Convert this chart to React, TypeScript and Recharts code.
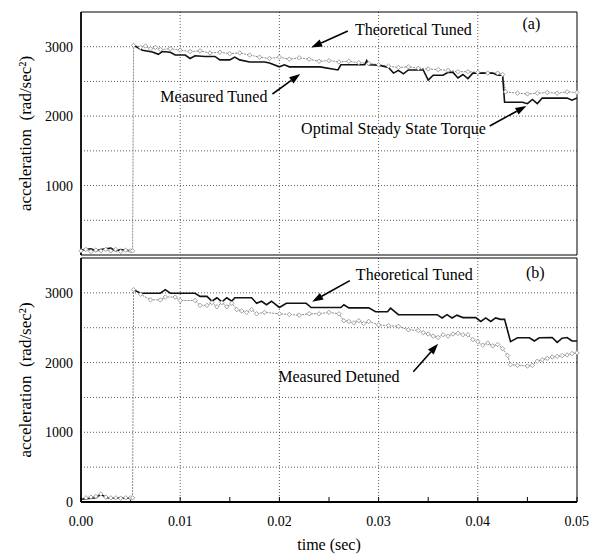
import {
  LineChart,
  Line,
  XAxis,
  YAxis,
  CartesianGrid,
  ReferenceArea,
  ReferenceLine,
  ReferenceDot,
} from "recharts";

const FONT = "'Liberation Serif', 'Times New Roman', serif";

const X_TICKS = [0, 0.005, 0.01, 0.015, 0.02, 0.025, 0.03, 0.035, 0.04, 0.045, 0.05];
const Y_TICKS = [0, 500, 1000, 1500, 2000, 2500, 3000, 3500];
const X_GRID = [0.01, 0.02, 0.03, 0.04];
const Y_GRID = [500, 1000, 1500, 2000, 2500, 3000];

// panel (a): time (sec), acceleration (rad/sec^2); null = pen up at the step
const measuredTunedA: [number, number | null][] = [
  [0, 70], [0.001, 90], [0.0015, 60], [0.002, 80], [0.003, 100], [0.0035, 60], [0.004, 80],
  [0.005, 60], [0.0052, 60], [0.00525, null], [0.0053, 3020], [0.0062, 2950], [0.0072, 2925], [0.0078, 2890],
  [0.0082, 2930], [0.009, 2920], [0.0095, 2880], [0.0105, 2880], [0.011, 2830], [0.0115, 2870],
  [0.0125, 2860], [0.0135, 2860], [0.014, 2810], [0.015, 2810], [0.0155, 2850], [0.016, 2810],
  [0.017, 2780], [0.0185, 2780], [0.019, 2765], [0.02, 2710], [0.0205, 2740], [0.021, 2710],
  [0.0225, 2710], [0.0241, 2710], [0.0259, 2665], [0.0262, 2740], [0.0286, 2740], [0.0288, 2800],
  [0.029, 2740], [0.03, 2735], [0.031, 2700], [0.0315, 2620], [0.032, 2660], [0.0325, 2610],
  [0.033, 2665], [0.0345, 2665], [0.035, 2520], [0.0355, 2590], [0.0365, 2590], [0.037, 2630],
  [0.0375, 2630], [0.038, 2550], [0.0385, 2600], [0.039, 2540], [0.0395, 2620], [0.0415, 2620],
  [0.042, 2590], [0.0425, 2590], [0.0427, 2200], [0.0445, 2200], [0.045, 2180], [0.0455, 2240],
  [0.046, 2180], [0.0465, 2260], [0.049, 2260], [0.0495, 2230], [0.05, 2260],
];

const theoreticalTunedA: [number, number | null][] = [
  [0, 60], [0.0005, 80], [0.001, 50], [0.0015, 70], [0.002, 60], [0.0025, 80], [0.003, 60],
  [0.0035, 80], [0.004, 50], [0.0045, 70], [0.005, 60], [0.0052, 60], [0.0053, 3020],
  [0.006, 2990], [0.0065, 3010], [0.007, 2970], [0.0075, 2990], [0.008, 2960], [0.009, 2970],
  [0.01, 2950], [0.011, 2930], [0.012, 2940], [0.013, 2910], [0.014, 2920], [0.015, 2900],
  [0.016, 2910], [0.017, 2880], [0.018, 2850], [0.019, 2830], [0.02, 2850], [0.021, 2820],
  [0.022, 2840], [0.023, 2820], [0.024, 2790], [0.025, 2800], [0.026, 2780], [0.027, 2790],
  [0.028, 2770], [0.029, 2760], [0.03, 2740], [0.031, 2720], [0.032, 2700], [0.033, 2710],
  [0.034, 2690], [0.035, 2680], [0.036, 2670], [0.037, 2660], [0.038, 2640], [0.039, 2640],
  [0.04, 2630], [0.041, 2620], [0.042, 2620], [0.0425, 2600], [0.0428, 2350], [0.044, 2330],
  [0.045, 2320], [0.046, 2330], [0.047, 2340], [0.048, 2330], [0.049, 2350], [0.05, 2340],
];

// panel (b)
const theoreticalTunedB: [number, number | null][] = [
  [0, 40], [0.0015, 60], [0.002, 110], [0.0026, 60], [0.005, 55], [0.0052, 60], [0.00525, null],
  [0.0053, 3046], [0.006, 2995], [0.008, 2995], [0.0085, 3046], [0.009, 2995], [0.0115, 2995], [0.012, 2950],
  [0.0127, 2950], [0.0132, 2880], [0.0137, 2930], [0.0142, 2870], [0.0147, 2930], [0.0152, 2880],
  [0.0155, 2930], [0.0172, 2930], [0.0177, 2850], [0.0182, 2880], [0.0187, 2830], [0.0192, 2880],
  [0.02, 2790], [0.0207, 2850], [0.0227, 2850], [0.0232, 2790], [0.0262, 2790], [0.0265, 2830],
  [0.027, 2785], [0.029, 2785], [0.0297, 2730], [0.0309, 2730], [0.0312, 2780], [0.032, 2687],
  [0.0359, 2687], [0.0364, 2640], [0.0369, 2687], [0.0374, 2640], [0.0379, 2680], [0.0385, 2645],
  [0.0398, 2645], [0.0403, 2590], [0.0408, 2640], [0.0413, 2590], [0.0418, 2640], [0.0423, 2620],
  [0.0427, 2620], [0.0433, 2300], [0.044, 2355], [0.0452, 2355], [0.0457, 2310], [0.0462, 2355],
  [0.0475, 2360], [0.048, 2290], [0.0485, 2350], [0.049, 2360], [0.0495, 2310], [0.05, 2310],
];

const measuredDetunedB: [number, number | null][] = [
  [0.0005, 60], [0.001, 70], [0.0015, 80], [0.002, 115], [0.0025, 70], [0.003, 60], [0.0035, 60],
  [0.004, 55], [0.0045, 60], [0.005, 60], [0.0052, 60], [0.0053, 3046], [0.006, 2980],
  [0.007, 2900], [0.008, 2900], [0.0085, 2940], [0.0095, 2940], [0.01, 2890], [0.0115, 2890],
  [0.012, 2820], [0.0127, 2820], [0.0132, 2860], [0.0137, 2800], [0.0142, 2860], [0.0147, 2800],
  [0.0152, 2850], [0.0157, 2760], [0.0162, 2740], [0.0167, 2720], [0.0172, 2760], [0.0177, 2700],
  [0.0185, 2720], [0.02, 2700], [0.021, 2690], [0.022, 2680], [0.023, 2700], [0.024, 2700],
  [0.025, 2720], [0.026, 2700], [0.0265, 2600], [0.027, 2590], [0.0275, 2570], [0.028, 2600],
  [0.0285, 2560], [0.029, 2590], [0.03, 2540], [0.031, 2530], [0.032, 2520], [0.033, 2470],
  [0.034, 2460], [0.0345, 2430], [0.035, 2410], [0.0355, 2380], [0.036, 2360], [0.0365, 2400],
  [0.037, 2380], [0.0375, 2410], [0.038, 2420], [0.0385, 2400], [0.039, 2400], [0.0395, 2330],
  [0.04, 2300], [0.0405, 2250], [0.041, 2280], [0.0415, 2240], [0.042, 2260], [0.0425, 2200],
  [0.043, 2100], [0.0433, 1970], [0.044, 1960], [0.045, 1950], [0.0455, 1960], [0.046, 2020],
  [0.0465, 2040], [0.047, 2060], [0.0475, 2080], [0.048, 2090], [0.0485, 2100], [0.049, 2110],
  [0.0495, 2130], [0.05, 2140],
];

// annotations, in data units
const labelsA = [
  { text: "Theoretical Tuned", x: 0.0335, y: 3255 },
  { text: "Measured Tuned", x: 0.0134, y: 2290 },
  { text: "Optimal Steady State Torque", x: 0.0315, y: 1829 },
  { text: "(a)", x: 0.0454, y: 3330 },
];
const arrowsA = [
  { x1: 0.0269, y1: 3226, x2: 0.0232, y2: 2990 },
  { x1: 0.0193, y1: 2319, x2: 0.0221, y2: 2607 },
  { x1: 0.0412, y1: 1858, x2: 0.0449, y2: 2146 },
];
const labelsB = [
  { text: "Theoretical Tuned", x: 0.0336, y: 3261 },
  { text: "Measured Detuned", x: 0.026, y: 1796 },
  { text: "(b)", x: 0.0458, y: 3290 },
];
const arrowsB = [
  { x1: 0.0271, y1: 3175, x2: 0.0233, y2: 2874 },
  { x1: 0.0335, y1: 1868, x2: 0.036, y2: 2270 },
];

const toRows = (pts: [number, number | null][]) => pts.map(([t, v]) => ({ t, v }));

const fmtX = (v: number) => (Math.round(v * 1000) % 10 === 0 ? v.toFixed(2) : "");
const fmtY = (v: number) => (v % 1000 === 0 && v < 3500 ? String(v) : "");

const Diamond = (props: any) => {
  const { cx, cy, index, stroke } = props;
  if (cx == null || cy == null) return <g key={`dm-${index}`} />;
  const s = 2.2;
  return (
    <path
      key={`dm-${index}`}
      d={`M${cx},${cy - s}L${cx + s},${cy}L${cx},${cy + s}L${cx - s},${cy}Z`}
      fill="#fff"
      stroke={stroke}
      strokeWidth={0.8}
    />
  );
};

const Arrow = (p: any) => {
  const { x1, y1, x2, y2 } = p;
  const a = Math.atan2(y2 - y1, x2 - x1);
  const L = 11;
  const W = 3.8;
  const bx = x2 - L * Math.cos(a);
  const by = y2 - L * Math.sin(a);
  const px = -Math.sin(a) * W;
  const py = Math.cos(a) * W;
  return (
    <g>
      <line x1={x1} y1={y1} x2={bx} y2={by} stroke="#000" strokeWidth={1.6} />
      <path d={`M${x2},${y2}L${bx + px},${by + py}L${bx - px},${by - py}Z`} fill="#000" />
    </g>
  );
};

const YTitle = ({ viewBox }: any) => {
  const cy = viewBox.y + viewBox.height / 2;
  return (
    <text
      x={25}
      y={cy}
      transform={`rotate(-90, 25, ${cy})`}
      textAnchor="middle"
      dominantBaseline="central"
      fontFamily={FONT}
      fontSize={17}
      fill="#000"
      style={{ whiteSpace: "pre" }}
    >
      acceleration  (rad/sec²)
    </text>
  );
};

const tickStyle = { fontFamily: FONT, fontSize: 14, fill: "#000" };

const renderNotes = (
  labels: { text: string; x: number; y: number }[],
  arrows: { x1: number; y1: number; x2: number; y2: number }[],
  key: string
) => [
  ...arrows.map((a, i) => (
    <ReferenceLine
      key={`${key}-ar-${i}`}
      segment={[{ x: a.x1, y: a.y1 }, { x: a.x2, y: a.y2 }]}
      shape={Arrow}
    />
  )),
  ...labels.map((l, i) => (
    <ReferenceDot
      key={`${key}-lb-${i}`}
      x={l.x}
      y={l.y}
      r={0}
      fill="none"
      stroke="none"
      label={{ value: l.text, position: "center", fontFamily: FONT, fontSize: 16, fill: "#000" }}
    />
  )),
];

const Panel = ({
  height,
  top,
  margin,
  xAxisHeight,
  showX,
  black,
  gray,
  grayDash,
  labels,
  arrows,
  id,
}: any) => (
  <div style={{ position: "absolute", left: 0, top }}>
    <LineChart width={589} height={height} margin={margin}>
      <CartesianGrid
        horizontalValues={Y_GRID}
        verticalValues={X_GRID}
        stroke="#333"
        strokeDasharray="1 2"
        strokeWidth={0.8}
      />
      <ReferenceArea x1={0} x2={0.05} y1={0} y2={3500} fill="none" stroke="#000" strokeWidth={1} />
      <XAxis
        type="number"
        dataKey="t"
        domain={[0, 0.05]}
        ticks={X_TICKS}
        allowDuplicatedCategory={false}
        height={xAxisHeight}
        tickFormatter={showX ? fmtX : () => ""}
        tick={tickStyle}
        tickSize={-5}
        tickMargin={19}
        axisLine={{ stroke: "#000", strokeWidth: 2 }}
        tickLine={{ stroke: "#000" }}
        label={
          showX
            ? { value: "time  (sec)", position: "insideBottom", offset: 4, fontFamily: FONT, fontSize: 16, fill: "#000" }
            : undefined
        }
      />
      <YAxis
        type="number"
        domain={[0, 3500]}
        ticks={Y_TICKS}
        width={81}
        tickFormatter={fmtY}
        tick={tickStyle}
        tickLine={false}
        axisLine={{ stroke: "#000", strokeWidth: 1.6 }}
        label={<YTitle />}
      />
      <Line
        data={toRows(gray)}
        dataKey="v"
        type="linear"
        stroke="#8a8a8a"
        strokeWidth={1}
        strokeDasharray={grayDash}
        dot={Diamond}
        isAnimationActive={false}
      />
      <Line
        data={toRows(black)}
        dataKey="v"
        type="linear"
        stroke="#111"
        strokeWidth={1.6}
        dot={false}
        isAnimationActive={false}
      />
      {renderNotes(labels, arrows, id)}
    </LineChart>
  </div>
);

export default function App() {
  return (
    <div style={{ position: "absolute", left: 0, top: 0, width: 589, height: 554, background: "#fff" }}>
      <Panel
        id="a"
        top={0}
        height={258}
        margin={{ top: 12, right: 12, bottom: 3, left: 0 }}
        xAxisHeight={0}
        showX={false}
        black={measuredTunedA}
        gray={theoreticalTunedA}
        grayDash="2 1"
        labels={labelsA}
        arrows={arrowsA}
      />
      <Panel
        id="b"
        top={250}
        height={304}
        margin={{ top: 8, right: 12, bottom: 0, left: 0 }}
        xAxisHeight={52}
        showX={true}
        black={theoreticalTunedB}
        gray={measuredDetunedB}
        grayDash="2 1"
        labels={labelsB}
        arrows={arrowsB}
      />
    </div>
  );
}
